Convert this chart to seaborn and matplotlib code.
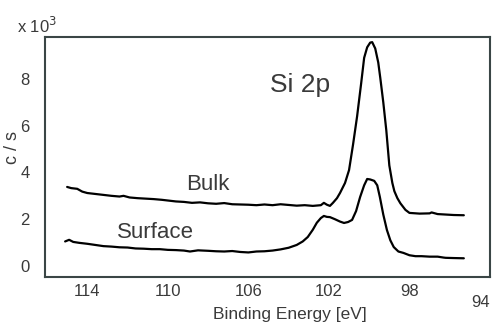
import numpy as np
import pandas as pd
import matplotlib
matplotlib.use("Agg")
import matplotlib.pyplot as plt
import seaborn as sns

# Si 2p spectra (x 10^3 c/s)
bulk_ev = [115.0, 114.8, 114.5, 114.25, 114.0, 113.6, 113.2, 112.8, 112.4, 112.2,
           111.9, 111.5, 111.1, 110.7, 110.3, 110.0, 109.6, 109.2, 108.8, 108.4,
           108.0, 107.6, 107.2, 106.8, 106.4, 106.0, 105.6, 105.2, 104.8, 104.4,
           104.0, 103.6, 103.2, 102.8, 102.4, 102.25, 102.1, 101.95, 101.8, 101.6,
           101.45, 101.2, 101.0, 100.8, 100.6, 100.4, 100.25, 100.1, 99.95, 99.85,
           99.7, 99.55, 99.45, 99.3, 99.15, 99.0, 98.85, 98.75, 98.6, 98.45,
           98.2, 98.0, 97.5, 97.0, 96.9, 96.6, 96.2, 95.8, 95.3]
bulk_cps = [3.38, 3.33, 3.30, 3.18, 3.12, 3.08, 3.04, 3.00, 2.97, 3.00,
            2.93, 2.90, 2.88, 2.86, 2.83, 2.80, 2.76, 2.74, 2.70, 2.72,
            2.68, 2.66, 2.69, 2.64, 2.63, 2.62, 2.60, 2.63, 2.60, 2.64,
            2.61, 2.58, 2.60, 2.57, 2.60, 2.70, 2.62, 2.57, 2.70, 2.90,
            3.12, 3.55, 4.10, 5.20, 6.40, 7.80, 8.90, 9.35, 9.55, 9.57,
            9.30, 8.70, 8.05, 7.00, 5.80, 4.30, 3.55, 3.20, 2.90, 2.68,
            2.40, 2.27, 2.24, 2.25, 2.29, 2.22, 2.20, 2.18, 2.17]

surf_ev = [115.1, 114.9, 114.7, 114.4, 114.0, 113.6, 113.2, 112.8, 112.4, 112.0,
           111.6, 111.2, 110.8, 110.4, 110.0, 109.6, 109.2, 108.9, 108.5, 108.0,
           107.6, 107.2, 106.8, 106.4, 106.0, 105.6, 105.2, 104.8, 104.4, 104.0,
           103.6, 103.3, 103.05, 102.8, 102.6, 102.4, 102.25, 102.1, 101.95, 101.7,
           101.45, 101.25, 101.05, 100.85, 100.65, 100.45, 100.25, 100.1, 99.95, 99.75,
           99.6, 99.47, 99.3, 99.12, 98.95, 98.78, 98.55, 98.3, 98.0, 97.7,
           97.4, 97.0, 96.6, 96.3, 96.2, 95.8, 95.3]
surf_cps = [1.05, 1.12, 1.03, 0.99, 0.95, 0.90, 0.85, 0.83, 0.80, 0.79,
            0.75, 0.74, 0.72, 0.72, 0.69, 0.68, 0.66, 0.62, 0.67, 0.65,
            0.63, 0.62, 0.64, 0.60, 0.58, 0.62, 0.63, 0.66, 0.71, 0.78,
            0.90, 1.05, 1.24, 1.55, 1.85, 2.05, 2.14, 2.10, 2.09, 2.00,
            1.90, 1.84, 1.88, 1.97, 2.35, 2.95, 3.45, 3.72, 3.70, 3.64,
            3.45, 2.95, 2.20, 1.54, 1.10, 0.81, 0.62, 0.56, 0.46, 0.42,
            0.42, 0.40, 0.40, 0.36, 0.35, 0.34, 0.33]

x_ticks = [114, 112, 110, 108, 106, 104, 102, 100, 98, 96, 94]
x_labels = ["114", "", "110", "", "106", "", "102", "", "98", "", "94"]
y_ticks = [0, 2, 4, 6, 8]

df = pd.concat([
    pd.DataFrame({"ev": bulk_ev, "cps": bulk_cps, "spec": "Bulk"}),
    pd.DataFrame({"ev": surf_ev, "cps": surf_cps, "spec": "Surface"}),
])

sns.set_style("white")
plt.rcParams["font.family"] = ["Liberation Sans", "DejaVu Sans"]
txt = "#3a3a3a"
edge = "#3a4646"

fig = plt.figure(figsize=(4.96, 3.27), dpi=100)
ax = fig.add_axes([45/496, 50/327, 445/496, 240/327])

sns.lineplot(data=df, x="ev", y="cps", units="spec", estimator=None, sort=False,
             color="black", lw=1.6, ax=ax)

ax.set_xlim(116.1, 94)
ax.set_ylim(-0.47, 9.79)
ax.set_xticks(x_ticks)
ax.set_xticklabels(x_labels)
ax.set_yticks(y_ticks)
ax.tick_params(axis="x", direction="in", length=5, width=1, color=edge,
               labelsize=12, labelcolor=txt, pad=5)
ax.tick_params(axis="y", direction="in", length=3, width=1.5, color=edge,
               labelsize=12, labelcolor=txt, pad=11)

# the last label (94) sits lower and tucked to the left in the reference
last = ax.xaxis.get_major_ticks()[-1]
last.set_pad(13)
last.label1.set_horizontalalignment("right")

for s in ax.spines.values():
    s.set_color(edge)
    s.set_linewidth(1.5)

ax.set_xlabel("Binding Energy [eV]", fontsize=12.5, color=txt)
ax.xaxis.set_label_coords(0.55, -0.125)
ax.set_ylabel("c / s", fontsize=13, color=txt)
ax.yaxis.set_label_coords(-0.055, 0.54)

fig.text(37/496, 1 - 33/327, "x 10$^3$", ha="center", va="baseline",
         fontsize=12, color=txt)

ax.text(300/496, 1 - 85/327, "Si 2p", transform=fig.transFigure,
        ha="center", va="center", fontsize=19, color=txt)
ax.text(208/496, 1 - 185/327, "Bulk", transform=fig.transFigure,
        ha="center", va="center", fontsize=16, color=txt)
ax.text(155/496, 1 - 232/327, "Surface", transform=fig.transFigure,
        ha="center", va="center", fontsize=16, color=txt)

ax.legend_ = None
fig.savefig("out.png", dpi=100, facecolor="white")
